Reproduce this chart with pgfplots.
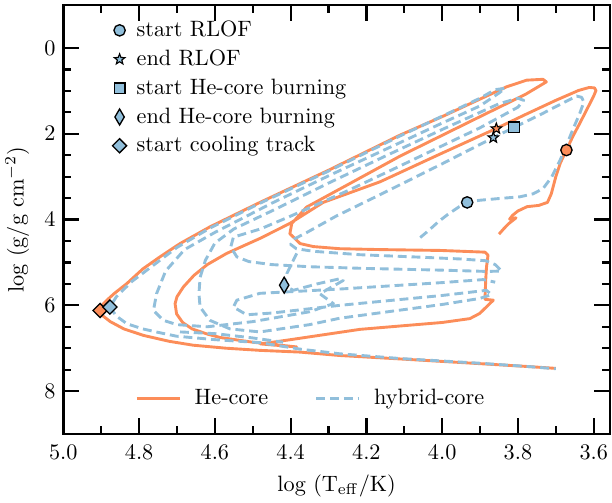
\documentclass[border=0pt]{standalone}
\usepackage{pgfplots}
\pgfplotsset{compat=1.18}
\definecolor{orgC}{RGB}{252,141,89}
\definecolor{bluC}{RGB}{145,191,219}
\pgfdeclareplotmark{fstar}{%
  \pgfpathmoveto{\pgfpointpolar{90}{\pgfplotmarksize}}%
  \pgfpathlineto{\pgfpointpolar{126}{0.42\pgfplotmarksize}}%
  \pgfpathlineto{\pgfpointpolar{162}{\pgfplotmarksize}}%
  \pgfpathlineto{\pgfpointpolar{198}{0.42\pgfplotmarksize}}%
  \pgfpathlineto{\pgfpointpolar{234}{\pgfplotmarksize}}%
  \pgfpathlineto{\pgfpointpolar{270}{0.42\pgfplotmarksize}}%
  \pgfpathlineto{\pgfpointpolar{306}{\pgfplotmarksize}}%
  \pgfpathlineto{\pgfpointpolar{342}{0.42\pgfplotmarksize}}%
  \pgfpathlineto{\pgfpointpolar{18}{\pgfplotmarksize}}%
  \pgfpathlineto{\pgfpointpolar{54}{0.42\pgfplotmarksize}}%
  \pgfpathclose
  \pgfusepathqfillstroke
}
\tikzset{
  oline/.style={orgC, line width=1.3pt, line join=round},
  bline/.style={bluC, line width=1.3pt, dash pattern=on 4pt off 2.2pt, line join=round},
}
\begin{document}
\begin{tikzpicture}
\begin{axis}[
  name=main,
  scale only axis, width=246pt, height=193pt,
  x dir=reverse, y dir=reverse,
  xmin=3.557, xmax=5.0, ymin=-1, ymax=9,
  xtick={3.6,3.8,4.0,4.2,4.4,4.6,4.8,5.0},
  minor x tick num=1,
  ytick={0,2,4,6,8}, minor y tick num=3,
  tick align=inside,
  major tick length=7.2pt, minor tick length=3.6pt,
  every tick/.style={black, line width=1pt},
  axis line style={line width=1.1pt},
  xticklabel style={/pgf/number format/fixed, /pgf/number format/fixed zerofill, /pgf/number format/precision=1, yshift=-1.6pt},
  xlabel={log (T$_{\rm eff}$/K)},
  ylabel={log (g/g cm$^{-2}$)},
  legend style={at={(0.455,0.083)}, anchor=center, draw=none, fill=none,
    legend columns=2, /tikz/every even column/.append style={column sep=19pt},
    /tikz/every odd column/.append style={column sep=4pt}},
  legend image code/.code={\draw[#1] (0cm,0cm) -- (0.68cm,0cm);},
  clip=false,
]
% He-core track
\addplot[oline] coordinates {
(3.850,4.34) (3.838,4.22) (3.825,4.10) (3.805,3.96) (3.822,3.99) (3.814,3.90)
(3.800,3.80) (3.776,3.70) (3.745,3.67) (3.722,3.60) (3.712,3.40) (3.700,3.00)
(3.688,2.68) (3.672,2.38) (3.655,2.06) (3.637,1.76) (3.615,1.38) (3.600,1.12)
(3.594,0.99) (3.598,0.93) (3.612,0.92) (3.640,0.99) (3.700,1.22) (3.780,1.55)
(3.858,1.88) (4.000,2.45) (4.164,3.12) (4.314,3.60) (4.402,4.09) (4.481,4.44)
(4.569,4.79) (4.620,5.05) (4.655,5.30) (4.683,5.57) (4.700,5.80) (4.705,5.96)
(4.701,6.20) (4.685,6.40) (4.660,6.55) (4.620,6.67)
(4.586,6.75) (4.500,6.86) (4.384,6.97) (4.480,6.90) (4.400,6.80) (4.217,6.56)
(4.000,6.40) (3.927,6.31) (3.901,6.19) (3.865,5.88) (3.887,5.86) (3.885,5.40)
(3.883,5.11) (3.879,4.83) (3.887,4.76) (4.006,4.72) (4.164,4.70) (4.270,4.68)
(4.340,4.63) (4.375,4.56) (4.402,4.33) (4.397,4.09) (4.358,3.71) (4.252,3.20)
(4.111,2.52) (3.900,1.60) (3.780,1.08) (3.742,0.88) (3.725,0.79) (3.734,0.73)
(3.777,0.75) (3.830,0.905) (4.000,1.60) (4.111,2.03) (4.300,2.85) (4.481,3.60)
(4.613,4.17) (4.692,4.56) (4.745,4.87) (4.790,5.15) (4.832,5.49) (4.865,5.72)
(4.885,5.88) (4.900,6.02) (4.903,6.12) (4.895,6.25)
(4.876,6.38) (4.840,6.55) (4.789,6.70) (4.720,6.84) (4.657,6.93) (4.570,7.00)
(4.481,7.05) (4.376,7.09) (4.270,7.17)
(4.111,7.25) (3.900,7.36) (3.768,7.43) (3.700,7.47)
};
\addlegendentry{He-core}
% hybrid-core track
\addplot[bline] coordinates {
(4.058,4.42) (4.035,4.25) (4.010,4.05) (3.985,3.88) (3.955,3.70) (3.934,3.60)
(3.901,3.55) (3.850,3.51) (3.795,3.47) (3.760,3.40) (3.734,3.28) (3.711,3.01)
(3.689,2.62) (3.672,2.27) (3.655,1.90) (3.637,1.53) (3.626,1.26) (3.632,1.15)
(3.645,1.12) (3.672,1.24) (3.740,1.55) (3.810,1.85) (3.865,2.09) (4.000,2.70)
(4.164,3.42) (4.280,3.92) (4.357,4.30) (4.390,4.45) (4.400,4.58) (4.385,4.68)
(4.340,4.74) (4.217,4.82) (4.050,4.88) (3.950,4.92) (3.885,4.96) (3.860,5.05)
(3.843,5.20) (3.880,5.21) (4.000,5.18) (4.200,5.14) (4.350,5.10) (4.450,5.05)
(4.510,4.98) (4.542,4.87) (4.558,4.64) (4.551,4.41) (4.480,4.22) (4.400,3.92)
(4.250,3.33) (4.111,2.75) (4.000,2.28) (3.900,1.86) (3.850,1.62) (3.800,1.38)
(3.785,1.22) (3.800,1.17) (3.850,1.30) (3.950,1.70) (4.000,1.90) (4.150,2.52)
(4.300,3.15) (4.450,3.80) (4.550,4.22) (4.600,4.55) (4.625,4.95) (4.639,5.35)
(4.642,5.73) (4.639,6.04) (4.613,6.35) (4.560,6.55) (4.481,6.62) (4.350,6.45)
(4.270,6.30) (4.000,5.98) (3.901,5.84) (3.870,5.75) (3.883,5.65) (4.000,5.77)
(4.270,6.00) (4.450,6.18) (4.516,6.22) (4.551,6.04) (4.542,5.88) (4.481,5.72)
(4.270,5.62) (4.000,5.47) (3.892,5.40) (3.860,5.46)
};
\addlegendentry{hybrid-core}
\addplot[bline, forget plot] coordinates {
(4.384,4.79) (4.410,5.26) (4.417,5.53) (4.393,5.65) (4.330,5.50) (4.270,5.38)
(4.261,5.42) (4.323,5.73) (4.287,5.96) (4.350,6.15) (4.500,6.38) (4.620,6.50)
(4.700,6.45) (4.736,6.35) (4.762,6.12) (4.754,5.73) (4.730,5.20) (4.680,4.70)
(4.600,4.30) (4.450,3.62) (4.300,2.98) (4.000,1.75) (3.900,1.35) (3.850,1.05)
(3.834,0.94) (3.860,0.97) (3.900,1.17) (4.000,1.59) (4.111,2.05) (4.300,2.87)
(4.481,3.62) (4.613,4.20) (4.700,4.65) (4.760,5.05) (4.820,5.45) (4.860,5.80)
(4.877,6.04) (4.860,6.25) (4.832,6.43) (4.790,6.55) (4.750,6.63) (4.701,6.72) (4.600,6.80) (4.481,6.87)
(4.376,7.02) (4.270,7.13) (4.111,7.24) (3.900,7.35) (3.768,7.43) (3.700,7.48)
};
\addplot[bline, forget plot] coordinates {
(4.692,6.62) (4.600,6.66) (4.500,6.76) (4.420,6.86)
};
% markers: orange
\addplot[forget plot, only marks, mark=*, mark size=2.55pt, mark options={fill=orgC, draw=black, line width=0.6pt}] coordinates {(3.672,2.38)};
\addplot[forget plot, only marks, mark=fstar, mark size=2.5pt, mark options={fill=orgC, draw=black, line width=0.5pt}] coordinates {(3.857,1.88)};
\addplot[forget plot, only marks, mark=square*, mark size=2.25pt, mark options={rotate=45, fill=orgC, draw=black, line width=0.6pt}] coordinates {(4.903,6.12)};
% markers: blue
\addplot[forget plot, only marks, mark=*, mark size=2.55pt, mark options={fill=bluC, draw=black, line width=0.6pt}] coordinates {(3.934,3.60)};
\addplot[forget plot, only marks, mark=fstar, mark size=2.5pt, mark options={fill=bluC, draw=black, line width=0.5pt}] coordinates {(3.865,2.09)};
\addplot[forget plot, only marks, mark=square*, mark size=2.4pt, mark options={fill=bluC, draw=black, line width=0.6pt}] coordinates {(3.810,1.85)};
\addplot[forget plot, only marks, mark=diamond*, mark size=3.6pt, mark options={xscale=0.78, fill=bluC, draw=black, line width=0.6pt}] coordinates {(4.417,5.53)};
\addplot[forget plot, only marks, mark=square*, mark size=2.25pt, mark options={rotate=45, fill=bluC, draw=black, line width=0.6pt}] coordinates {(4.877,6.04)};
\end{axis}
\begin{axis}[
  scale only axis, width=246pt, height=193pt, hide axis,
  xmin=0, xmax=1, ymin=0, ymax=1,
  legend cell align=left,
  legend style={at={(0.077,0.985)}, anchor=north west, draw=none, fill=none, row sep=0.5pt,
    /tikz/every odd column/.append style={column sep=2.5pt}},
]
\addplot[draw=none, forget plot] coordinates {(0.5,0.5)};
\addlegendimage{only marks, mark=*, mark size=2.55pt, mark options={fill=bluC, draw=black, line width=0.6pt}}
\addlegendentry{start RLOF}
\addlegendimage{only marks, mark=fstar, mark size=2.5pt, mark options={fill=bluC, draw=black, line width=0.5pt}}
\addlegendentry{end RLOF}
\addlegendimage{only marks, mark=square*, mark size=2.4pt, mark options={fill=bluC, draw=black, line width=0.6pt}}
\addlegendentry{start He-core burning}
\addlegendimage{only marks, mark=diamond*, mark size=3.6pt, mark options={xscale=0.78, fill=bluC, draw=black, line width=0.6pt}}
\addlegendentry{end He-core burning}
\addlegendimage{only marks, mark=square*, mark size=2.25pt, mark options={rotate=45, fill=bluC, draw=black, line width=0.6pt}}
\addlegendentry{start cooling track}
\end{axis}
\pgfresetboundingbox
\useasboundingbox ([xshift=-28.5pt,yshift=-30.8pt]main.south west) rectangle ([xshift=0.9pt,yshift=2.3pt]main.north east);
\end{tikzpicture}
\end{document}
